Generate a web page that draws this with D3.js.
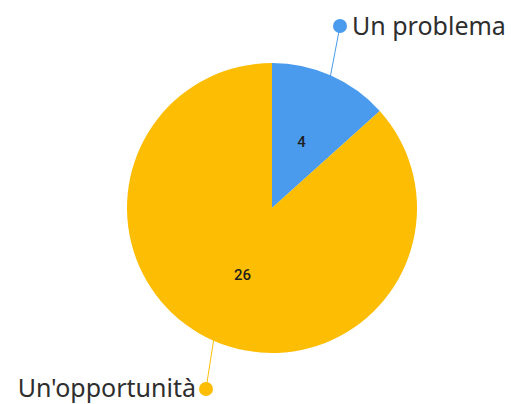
<!DOCTYPE html>
<html>
<head>
<meta charset="utf-8">
<script src="https://cdn.jsdelivr.net/npm/d3@7"></script>
<style>
  html, body { margin: 0; padding: 0; background: #ffffff; }
  svg { display: block; }
</style>
</head>
<body>
<svg id="chart" width="511" height="404"></svg>
<script>
// Answers and their counts
const categories = ["Un problema", "Un'opportunità"];
const values = [4, 26];
const colors = ["#4A9BEE", "#FDBD03"];

const svg = d3.select("#chart");
const cx = 272, cy = 208, radius = 145;

const pie = d3.pie().sort(null).value(d => d.value);
const arc = d3.arc().innerRadius(0).outerRadius(radius);

const data = categories.map((c, i) => ({ name: c, value: values[i], color: colors[i] }));
const arcs = pie(data);

const g = svg.append("g").attr("transform", `translate(${cx},${cy})`);

g.selectAll("path.slice")
  .data(arcs)
  .enter().append("path")
  .attr("class", "slice")
  .attr("d", arc)
  .attr("fill", d => d.data.color);

// values inside slices
g.selectAll("text.value")
  .data(arcs)
  .enter().append("text")
  .attr("class", "value")
  .attr("transform", d => `translate(${arc.centroid(d)})`)
  .attr("text-anchor", "middle")
  .attr("dy", "0.36em")
  .attr("font-family", "Roboto, 'Noto Sans', sans-serif")
  .attr("font-size", 15)
  .attr("font-weight", 500)
  .attr("fill", "#1f1f1f")
  .text(d => d.data.value);

// external labels with leader lines and dots
const labelPos = [
  { dot: [340, 26], anchor: "start", text: [352, 35] },
  { dot: [206, 389], anchor: "end", text: [196, 397] }
];

arcs.forEach((d, i) => {
  const mid = (d.startAngle + d.endAngle) / 2;
  const ex = cx + Math.sin(mid) * (radius - 2);
  const ey = cy - Math.cos(mid) * (radius - 2);
  const p = labelPos[i];
  svg.append("line")
    .attr("x1", ex).attr("y1", ey)
    .attr("x2", p.dot[0]).attr("y2", p.dot[1])
    .attr("stroke", d.data.color)
    .attr("stroke-width", 1);
  svg.append("circle")
    .attr("cx", p.dot[0]).attr("cy", p.dot[1])
    .attr("r", 7)
    .attr("fill", d.data.color);
  svg.append("text")
    .attr("x", p.text[0]).attr("y", p.text[1])
    .attr("text-anchor", p.anchor)
    .attr("font-family", "'Noto Sans', sans-serif")
    .attr("font-size", 25)
    .attr("fill", "#2e2e2e")
    .text(d.data.name);
});
</script>
</body>
</html>
